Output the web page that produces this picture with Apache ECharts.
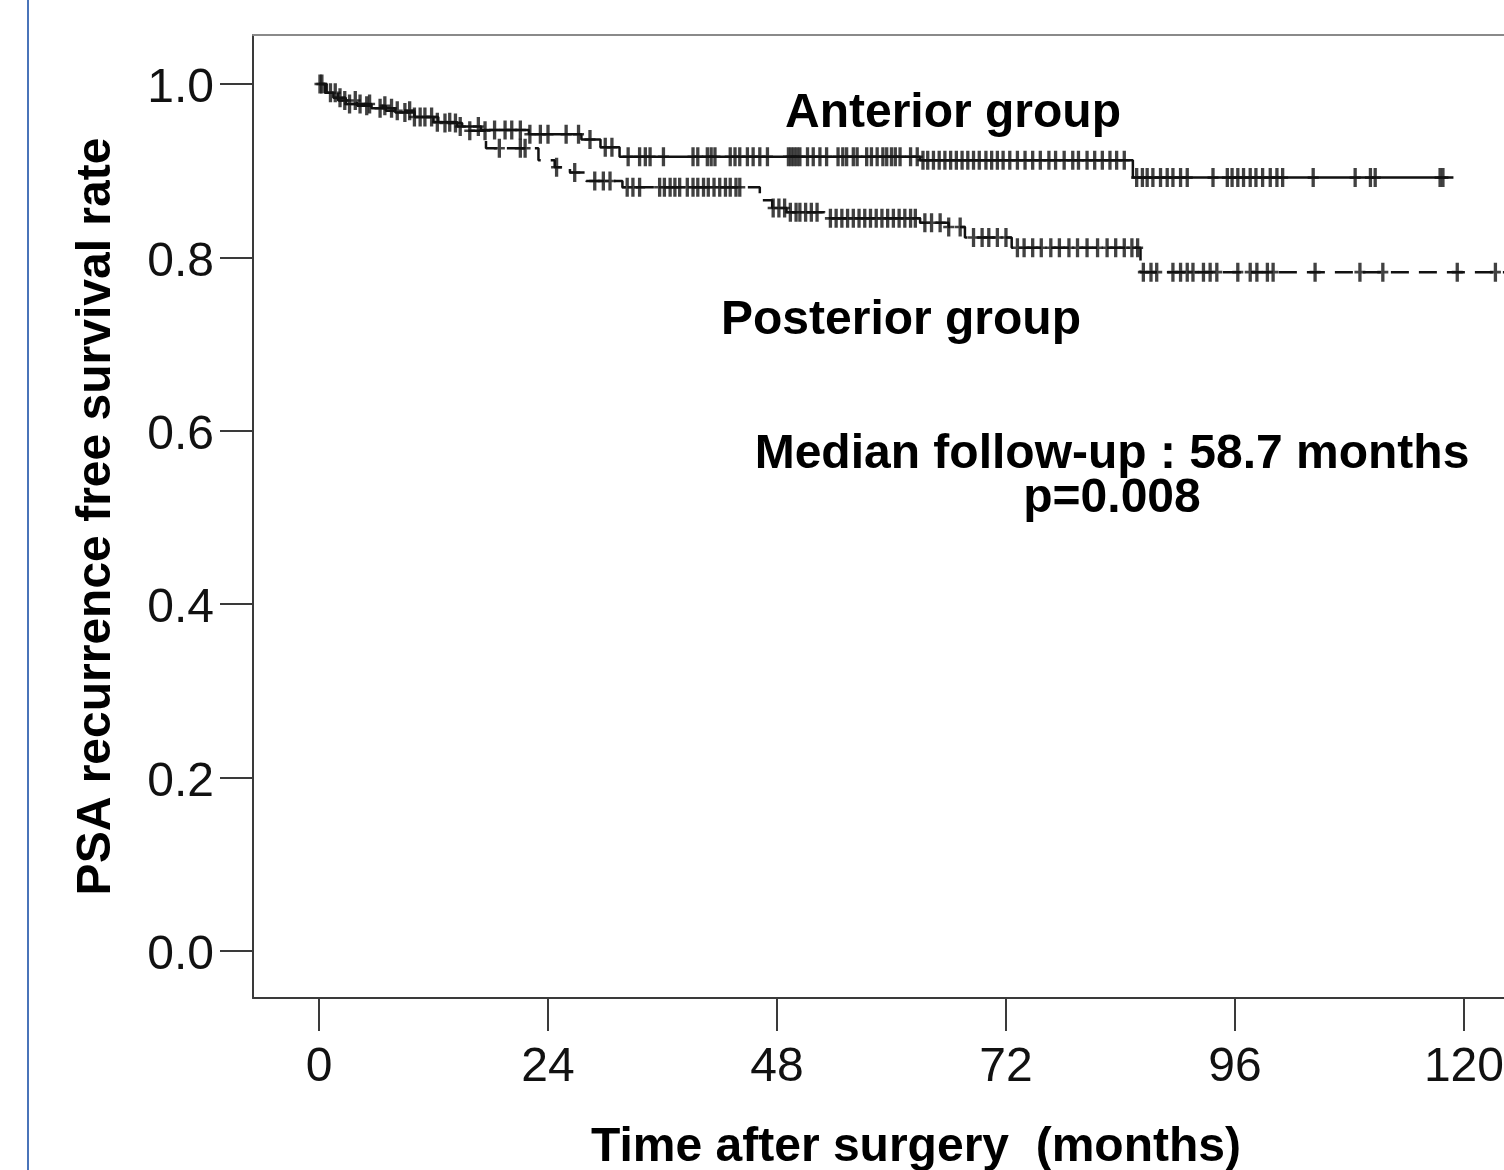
<!DOCTYPE html>
<html>
<head>
<meta charset="utf-8">
<script src="https://cdn.jsdelivr.net/npm/echarts@6/dist/echarts.min.js"></script>
<style>
html,body{margin:0;padding:0;background:#fff;}
#chart{width:1504px;height:1170px;}
</style>
</head>
<body>
<div id="chart"></div>
<script>
// ---- Data ----
const monthTicks = [0, 24, 48, 72, 96, 120];
const rateTicks = [0, 0.2, 0.4, 0.6, 0.8, 1.0];

// Anterior group (solid): event times (months) and survival after each step
const antTime = [0, 0.6, 1.5, 2.8, 5.5, 8, 10, 12, 14.5, 17, 22, 27.5, 29.5, 31.5, 63, 85.3];
const antSurv = [1.0, 0.99, 0.984, 0.977, 0.972, 0.967, 0.962, 0.956, 0.951, 0.947, 0.942, 0.936, 0.927, 0.916, 0.912, 0.892];
const antEnd = 118.9;
const antCensor = [0.1, 1.2, 2.2, 3.2, 4.3, 5.3, 6.4, 7.6, 9.0, 10.0, 11.1, 12.4, 13.7, 14.8, 16.7, 18.4, 19.5, 20.2, 21.1, 22.1, 23.2, 24.0, 25.9, 27.2, 28.4, 30.0, 30.7,
  32.4, 33.6, 34.2, 34.7, 36.1, 39.2, 39.7, 40.7, 41.1, 41.5, 43.1, 43.6, 44.1, 44.9, 45.5, 46.2, 47.0, 49.2, 49.5, 49.8, 50.1, 50.4, 51.2, 51.8, 52.5, 53.2,
  54.4, 54.9, 55.3, 56.0, 56.4, 57.4, 57.9, 58.5, 59.1, 59.5, 60.0, 60.4, 60.9, 62.0, 62.7, 63.3, 63.8, 64.4, 65.0, 65.6, 66.2, 66.8, 67.4, 68.0, 68.6,
  69.2, 69.9, 70.5, 71.1, 71.7, 72.4, 73.2, 74.0, 74.8, 75.6, 76.5, 77.2, 78.1, 79.0, 79.6, 80.5, 81.3, 82.1, 82.9, 83.6, 84.4,
  85.7, 86.3, 86.8, 87.4, 88.2, 88.9, 89.5, 90.3, 91.0, 93.7, 95.2, 95.7, 96.3, 96.9, 97.6, 98.2, 98.9, 99.7, 100.4, 101.0, 104.2, 108.6, 110.2, 110.7, 117.5, 117.8];

// Posterior group (dashed)
const postTime = [0, 0.8, 2, 4, 7, 10, 12.5, 15, 17.5, 23, 24.7, 26.3, 28, 31.8, 46.2, 47.5, 49, 53, 63, 66, 67.7, 72.6, 86.1];
const postSurv = [1.0, 0.99, 0.981, 0.975, 0.969, 0.962, 0.955, 0.946, 0.926, 0.912, 0.904, 0.898, 0.888, 0.881, 0.866, 0.857, 0.852, 0.845, 0.840, 0.835, 0.823, 0.811, 0.783];
const postEnd = 127;
const postCensor = [0.3, 1.7, 2.7, 3.8, 5.0, 6.9, 8.2, 9.5, 10.6, 11.8, 13.2, 14.3, 15.8, 17.4, 18.9, 21.1, 21.6, 24.9, 26.8, 28.9, 29.8, 30.5,
  32.3, 32.9, 33.6, 35.7, 36.2, 36.8, 37.3, 37.8, 38.6, 39.2, 39.7, 40.3, 40.8, 41.4, 42.0, 42.6, 43.1, 43.7, 44.1,
  47.6, 48.2, 48.8, 49.4, 50.0, 50.4, 51.0, 51.6, 52.2, 53.6, 54.2, 54.8, 55.4, 56.0, 56.6, 57.2, 57.8, 58.4, 59.0, 59.6, 60.2, 60.8, 61.4, 62.0, 62.5,
  63.5, 64.2, 65.1, 66.0, 67.2, 68.6, 69.5, 70.2, 71.1, 72.0, 73.2, 73.9, 74.8, 75.7, 76.7, 77.6, 78.6, 79.5, 80.5, 81.6, 82.6, 83.5, 84.4, 85.2, 85.8,
  86.4, 87.2, 87.8, 89.5, 90.3, 91.0, 91.6, 92.7, 93.4, 94.1, 96.3, 97.6, 98.3, 99.4, 100.0, 104.4, 109.1, 111.5, 119.3, 123.3];

// ---- Build ----
function stepData(times, surv, end) {
  const d = times.map((t, i) => [t, surv[i]]);
  d.push([end, surv[surv.length - 1]]);
  return d;
}
function survAt(times, surv, t) {
  let v = surv[0];
  for (let i = 0; i < times.length; i++) { if (times[i] <= t) v = surv[i]; }
  return v;
}
const antLine = stepData(antTime, antSurv, antEnd);
const postLine = stepData(postTime, postSurv, postEnd);
const antMarks = antCensor.map(t => [t, survAt(antTime, antSurv, t)]);
const postMarks = postCensor.map(t => [t, survAt(postTime, postSurv, t)]);

const plusSym = 'path://M-1.5,-9H1.5V-1.2H5V1.2H1.5V9H-1.5V1.2H-5V-1.2H-1.5Z';
const FONT = '"Liberation Sans", Arial, sans-serif';
const axisColor = '#3a3a3a';

const chart = echarts.init(document.getElementById('chart'), null, {renderer: 'canvas'});
chart.setOption({
  backgroundColor: '#ffffff',
  animation: false,
  grid: {left: 253, top: 35, right: 0, bottom: 172, show: false, outerBoundsMode: 'none', containLabel: false},
  xAxis: [{
    type: 'value', min: -6.92, max: 124.2,
    axisLine: {show: true, onZero: false, lineStyle: {color: axisColor, width: 2}},
    axisTick: {show: true, inside: false, length: 33, lineStyle: {color: axisColor, width: 2}, customValues: monthTicks},
    axisLabel: {customValues: monthTicks, fontSize: 48, fontFamily: FONT, color: '#111', margin: 46},
    splitLine: {show: false},
    name: 'Time after surgery  (months)', nameLocation: 'middle', nameGap: 126,
    nameTextStyle: {fontSize: 48, fontWeight: 'bold', fontFamily: FONT, color: '#000', padding: [0, 0, 0, 75]}
  }, {
    type: 'value', position: 'top', min: -6.92, max: 124.2,
    axisLine: {show: true, onZero: false, lineStyle: {color: '#8a8a8a', width: 2}},
    axisTick: {show: false}, axisLabel: {show: false}, splitLine: {show: false}
  }],
  yAxis: {
    type: 'value', min: -0.0542, max: 1.0565,
    axisLine: {show: true, onZero: false, lineStyle: {color: axisColor, width: 2}},
    axisTick: {show: true, inside: false, length: 33, lineStyle: {color: axisColor, width: 2}, customValues: rateTicks},
    axisLabel: {customValues: rateTicks, fontSize: 48, fontFamily: FONT, color: '#111', margin: 39,
      verticalAlign: 'top', lineHeight: 10,
      formatter: v => v.toFixed(1)},
    splitLine: {show: false},
    name: 'PSA recurrence free survival rate', nameLocation: 'middle', nameRotate: 90, nameGap: 132,
    nameTextStyle: {fontSize: 48, fontWeight: 'bold', fontFamily: FONT, color: '#000'}
  },
  series: [
    {type: 'line', name: 'Anterior group', data: antLine, step: 'end', showSymbol: false, symbol: 'none',
      lineStyle: {color: '#111', width: 2.5}, z: 2},
    {type: 'line', name: 'Posterior group', data: postLine, step: 'end', showSymbol: false, symbol: 'none',
      lineStyle: {color: '#111', width: 2.5, type: [18, 10]}, z: 2},
    {type: 'scatter', name: 'Anterior censored', data: antMarks, symbol: plusSym, symbolSize: [11, 19],
      itemStyle: {color: '#111'}, z: 3},
    {type: 'scatter', name: 'Posterior censored', data: postMarks, symbol: plusSym, symbolSize: [11, 19],
      itemStyle: {color: '#111'}, z: 3}
  ],
  graphic: [
    {type: 'line', shape: {x1: 28, y1: 0, x2: 28, y2: 1170}, style: {stroke: '#4a74b9', lineWidth: 2}},
    {type: 'text', style: {text: 'Anterior group', x: 953, y: 114, font: 'bold 48px ' + FONT, fill: '#000', align: 'center', verticalAlign: 'middle', textAlign: 'center', textVerticalAlign: 'middle'}},
    {type: 'text', style: {text: 'Posterior group', x: 901, y: 321, font: 'bold 48px ' + FONT, fill: '#000', align: 'center', verticalAlign: 'middle', textAlign: 'center', textVerticalAlign: 'middle'}},
    {type: 'text', style: {text: 'Median follow-up : 58.7 months', x: 1112, y: 455, font: 'bold 48px ' + FONT, fill: '#000', align: 'center', verticalAlign: 'middle', textAlign: 'center', textVerticalAlign: 'middle'}},
    {type: 'text', style: {text: 'p=0.008', x: 1112, y: 499, font: 'bold 48px ' + FONT, fill: '#000', align: 'center', verticalAlign: 'middle', textAlign: 'center', textVerticalAlign: 'middle'}}
  ]
});
</script>
</body>
</html>
